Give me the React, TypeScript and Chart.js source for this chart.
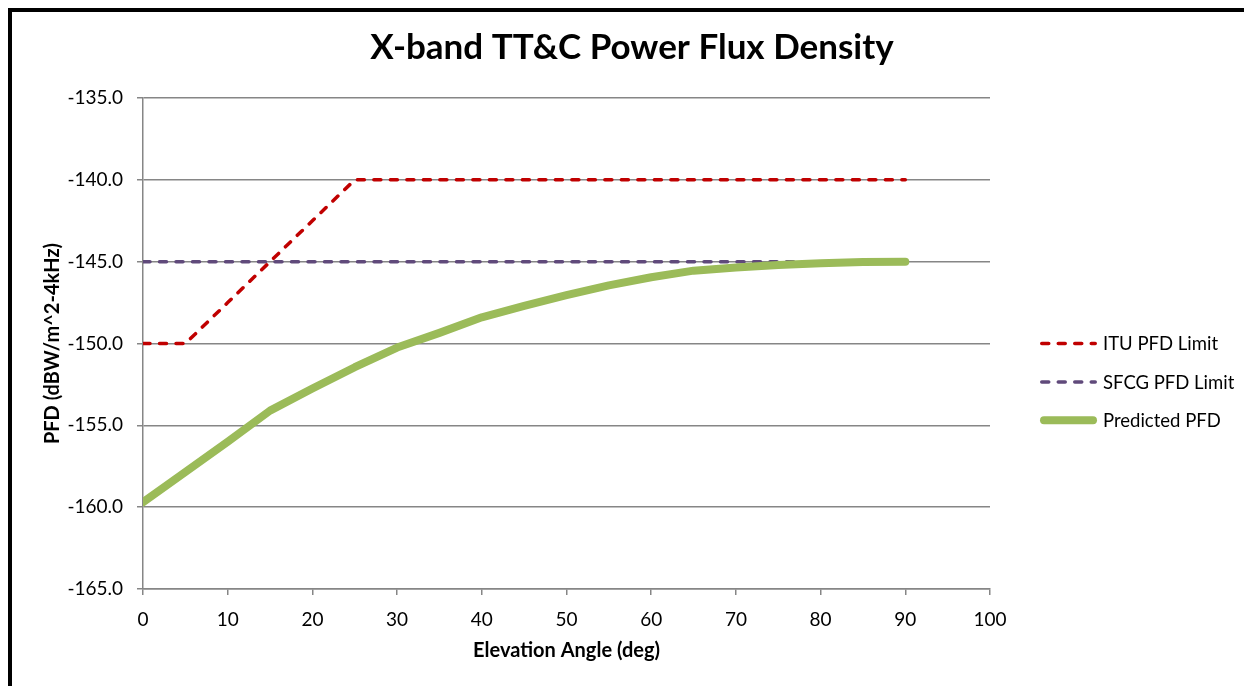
import React, { useEffect, useRef } from 'react';
import { Chart, registerables } from 'chart.js';

Chart.register(...registerables);

// ---- data ----
const elevationAngles = [0, 5, 10, 15, 20, 25, 30, 35, 40, 45, 50, 55, 60, 65, 70, 75, 80, 85, 90];
const ituPfdLimit = [-150, -150, -147.5, -145, -142.5, -140, -140, -140, -140, -140, -140, -140, -140, -140, -140, -140, -140, -140, -140];
const sfcgPfdLimit = [-145, -145, -145, -145, -145, -145, -145, -145, -145, -145, -145, -145, -145, -145, -145, -145, -145, -145, -145];
const predictedPfd = [-159.7, -157.85, -156.0, -154.1, -152.75, -151.45, -150.25, -149.35, -148.4, -147.7, -147.05, -146.45, -145.95, -145.55, -145.35, -145.2, -145.1, -145.02, -145.0];

const xTickValues = [0, 10, 20, 30, 40, 50, 60, 70, 80, 90, 100];
const yTickValues = [-165, -160, -155, -150, -145, -140, -135];

const seriesLabels = ['ITU PFD Limit', 'SFCG PFD Limit', 'Predicted PFD'];
const chartTitle = 'X-band TT&C Power Flux Density';
const xAxisTitle = 'Elevation Angle (deg)';
const yAxisTitle = 'PFD (dBW/m^2-4kHz)';

const FONT = 'Lato';
const GRID = '#868686';

const sideLegend = {
  id: 'sideLegend',
  afterDraw(chart: any) {
    const { ctx, chartArea } = chart;
    const x0 = chartArea.right + 50;
    const lineW = 57;
    ctx.save();
    chart.data.datasets.forEach((ds: any, i: number) => {
      const y = chartArea.top + 245.5 + i * 38.4;
      const w = ds.borderWidth;
      ctx.beginPath();
      ctx.strokeStyle = ds.borderColor;
      ctx.lineWidth = w;
      ctx.lineCap = ds.borderCapStyle || 'butt';
      ctx.setLineDash(ds.borderDash || []);
      ctx.moveTo(x0 + w / 2, y);
      ctx.lineTo(x0 + lineW - w / 2, y);
      ctx.stroke();
      ctx.setLineDash([]);
      ctx.fillStyle = '#000';
      ctx.font = `18.5px ${FONT}`;
      ctx.textAlign = 'left';
      ctx.textBaseline = 'middle';
      ctx.fillText(ds.label, x0 + lineW + 6, y + 1);
    });
    ctx.restore();
  },
};

export default function App() {
  const canvasRef = useRef<HTMLCanvasElement | null>(null);

  useEffect(() => {
    if (!canvasRef.current) return;
    const toPts = (vals: number[]) => vals.map((v, i) => ({ x: elevationAngles[i], y: v }));
    const chart = new Chart(canvasRef.current, {
      type: 'line',
      data: {
        datasets: [
          {
            label: seriesLabels[0],
            data: toPts(ituPfdLimit),
            borderColor: '#C00000',
            backgroundColor: '#C00000',
            borderWidth: 3.5,
            borderDash: [7, 9.5],
            borderCapStyle: 'round',
            pointRadius: 0,
            order: 1,
          },
          {
            label: seriesLabels[1],
            data: toPts(sfcgPfdLimit),
            borderColor: '#604A7B',
            backgroundColor: '#604A7B',
            borderWidth: 3.5,
            borderDash: [7, 9.5],
            borderCapStyle: 'round',
            pointRadius: 0,
            order: 2,
          },
          {
            label: seriesLabels[2],
            data: toPts(predictedPfd),
            borderColor: '#9BBB59',
            backgroundColor: '#9BBB59',
            borderWidth: 8,
            borderCapStyle: 'round',
            borderJoinStyle: 'round',
            pointRadius: 0,
            order: 0,
          },
        ],
      },
      options: {
        animation: false,
        responsive: false,
        maintainAspectRatio: false,
        layout: { padding: { left: 8, right: 0, top: 0, bottom: 0 } },
        plugins: {
          legend: { display: false },
          tooltip: { enabled: false },
          title: {
            display: true,
            text: chartTitle,
            color: '#000',
            font: { family: FONT, size: 35, weight: 'bold' },
            padding: { top: 14.5, bottom: 29.5 },
          },
        },
        scales: {
          x: {
            type: 'linear',
            min: 0,
            max: 100,
            afterBuildTicks: (s: any) => {
              s.ticks = xTickValues.map((v) => ({ value: v }));
            },
            afterFit: (s: any) => {
              s.height = 97;
            },
            ticks: {
              color: '#000',
              font: { family: FONT, size: 19 },
              padding: 13,
              maxRotation: 0,
              autoSkip: false,
            },
            grid: {
              display: true,
              drawOnChartArea: false,
              drawTicks: true,
              tickLength: 6,
              color: GRID,
              lineWidth: 1.5,
            },
            border: { display: true, color: GRID, width: 1.5 },
            title: {
              display: true,
              text: xAxisTitle,
              color: '#000',
              font: { family: FONT, size: 20, weight: 'bold' },
              padding: { top: 0, bottom: 23 },
            },
          },
          y: {
            type: 'linear',
            min: -165,
            max: -135,
            afterBuildTicks: (s: any) => {
              s.ticks = yTickValues.map((v) => ({ value: v }));
            },
            afterFit: (s: any) => {
              s.width = 123;
            },
            ticks: {
              color: '#000',
              font: { family: FONT, size: 19 },
              padding: 14,
              callback: (v: any) => Number(v).toFixed(1),
            },
            grid: {
              display: true,
              drawOnChartArea: true,
              drawTicks: true,
              tickLength: 6,
              color: GRID,
              lineWidth: 1.5,
            },
            border: { display: true, color: GRID, width: 1.5 },
            title: {
              display: true,
              text: yAxisTitle,
              color: '#000',
              font: { family: FONT, size: 20, weight: 'bold' },
              padding: { top: 21, bottom: 0 },
            },
          },
          legendSpace: {
            type: 'linear',
            position: 'right',
            display: true,
            afterFit: (s: any) => {
              s.width = 254;
            },
            ticks: { display: false },
            grid: { display: false },
            border: { display: false },
          },
        },
      } as any,
      plugins: [sideLegend],
    });
    return () => chart.destroy();
  }, []);

  return (
    <div
      style={{
        position: 'fixed',
        left: 8,
        top: 8,
        width: 1236,
        height: 678,
        boxSizing: 'border-box',
        borderLeft: '4px solid #000',
        borderTop: '4px solid #000',
        background: '#fff',
      }}
    >
      <canvas ref={canvasRef} width={1232} height={674} style={{ display: 'block' }} />
    </div>
  );
}
